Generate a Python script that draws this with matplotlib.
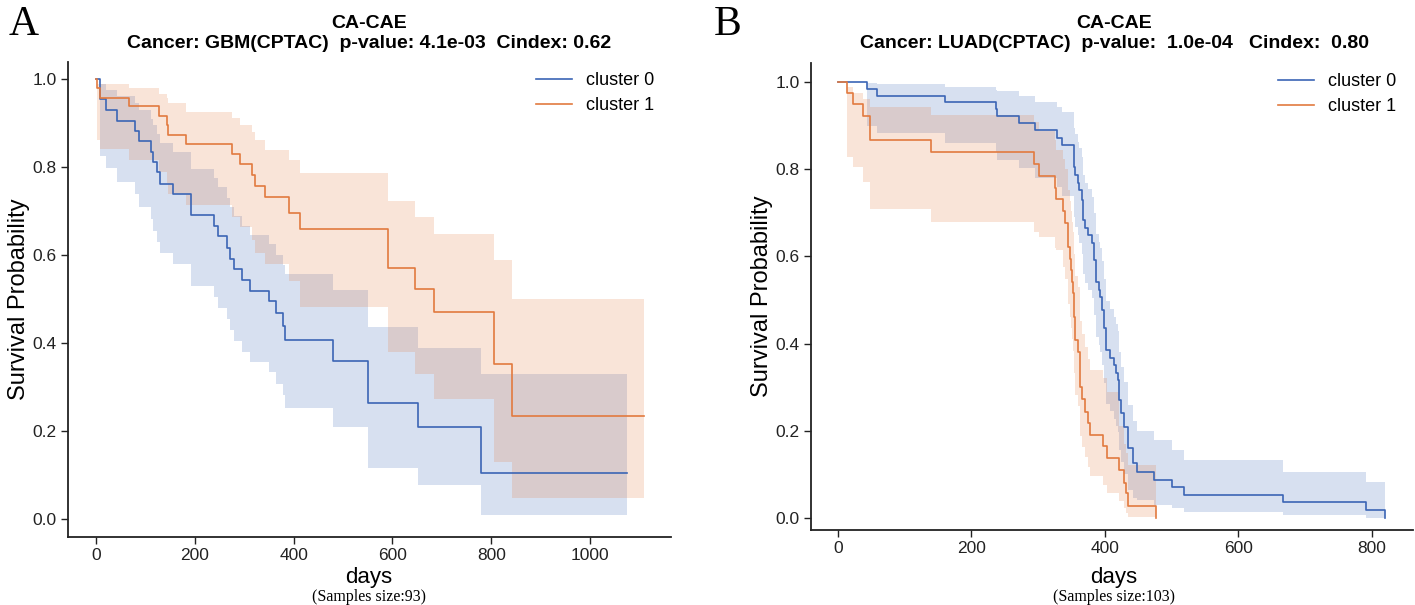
import matplotlib
matplotlib.use("Agg")
import matplotlib.pyplot as plt

# ---- panel A : GBM(CPTAC) ----
a0_days = [0, 7, 19, 43, 79, 87, 111, 116, 123, 130, 155, 191, 238, 246, 265, 271, 280, 295, 312,
           350, 364, 378, 383, 479, 551, 652, 780, 1075]
a0_surv = [1.0, 0.954, 0.930, 0.905, 0.883, 0.859, 0.835, 0.812, 0.788, 0.762, 0.739, 0.691, 0.667,
           0.643, 0.617, 0.592, 0.568, 0.543, 0.519, 0.495, 0.468, 0.439, 0.407, 0.360, 0.264, 0.210,
           0.104, 0.104]
a0_upper = [1.0, 0.988, 0.976, 0.962, 0.946, 0.930, 0.910, 0.895, 0.875, 0.855, 0.835, 0.795, 0.775,
            0.755, 0.730, 0.710, 0.690, 0.665, 0.645, 0.625, 0.600, 0.578, 0.556, 0.520, 0.437, 0.388,
            0.330, 0.330]
a0_lower = [1.0, 0.825, 0.797, 0.767, 0.740, 0.710, 0.681, 0.655, 0.630, 0.605, 0.580, 0.530, 0.505,
            0.480, 0.455, 0.430, 0.405, 0.380, 0.357, 0.335, 0.308, 0.282, 0.252, 0.210, 0.116, 0.077,
            0.009, 0.009]

a1_days = [0, 1, 7, 67, 127, 143, 146, 181, 275, 291, 315, 322, 341, 391, 412, 590, 645, 685, 805,
           843, 1110]
a1_surv = [1.0, 0.979, 0.958, 0.938, 0.916, 0.895, 0.874, 0.852, 0.830, 0.808, 0.783, 0.758, 0.733,
           0.696, 0.659, 0.571, 0.523, 0.471, 0.353, 0.234, 0.234]
a1_upper = [1.0, 0.990, 0.990, 0.981, 0.967, 0.958, 0.945, 0.926, 0.911, 0.895, 0.880, 0.861, 0.840,
            0.816, 0.786, 0.724, 0.687, 0.647, 0.588, 0.500, 0.500]
a1_lower = [1.0, 0.861, 0.842, 0.817, 0.790, 0.765, 0.740, 0.715, 0.687, 0.664, 0.635, 0.605, 0.580,
            0.540, 0.483, 0.380, 0.330, 0.273, 0.130, 0.048, 0.048]

# ---- panel B : LUAD(CPTAC) ----
b0_days = [0, 44, 59, 161, 237, 239, 271, 296, 328, 335, 353, 355, 359, 361, 365, 367, 370, 375, 380,
           383, 387, 391, 393, 396, 399, 402, 408, 413, 417, 419, 421, 424, 428, 435, 442, 448, 473,
           500, 519, 667, 791, 819]
b0_surv = [1.0, 0.985, 0.969, 0.953, 0.938, 0.922, 0.906, 0.889, 0.872, 0.856, 0.806, 0.787, 0.768,
           0.752, 0.729, 0.683, 0.664, 0.649, 0.630, 0.592, 0.542, 0.523, 0.508, 0.477, 0.435, 0.385,
           0.367, 0.350, 0.333, 0.317, 0.271, 0.240, 0.209, 0.160, 0.125, 0.106, 0.087, 0.070, 0.053,
           0.036, 0.018, 0.0]
b0_upper = [1.0, 0.998, 0.995, 0.989, 0.982, 0.979, 0.968, 0.955, 0.943, 0.932, 0.895, 0.880, 0.863,
            0.848, 0.828, 0.786, 0.768, 0.754, 0.736, 0.700, 0.652, 0.634, 0.619, 0.589, 0.548, 0.498,
            0.480, 0.462, 0.445, 0.428, 0.380, 0.347, 0.313, 0.260, 0.222, 0.200, 0.179, 0.156, 0.133,
            0.106, 0.083, 0.0]
b0_lower = [1.0, 0.900, 0.882, 0.861, 0.840, 0.821, 0.802, 0.779, 0.760, 0.739, 0.690, 0.668, 0.648,
            0.630, 0.606, 0.560, 0.540, 0.524, 0.505, 0.466, 0.415, 0.396, 0.381, 0.350, 0.310, 0.262,
            0.245, 0.228, 0.212, 0.197, 0.155, 0.128, 0.101, 0.065, 0.045, 0.041, 0.030, 0.022, 0.014,
            0.007, 0.001, 0.0]

b1_days = [0, 14, 22, 37, 48, 140, 294, 302, 325, 326, 337, 340, 345, 347, 349, 351, 352, 353, 355,
           359, 363, 366, 370, 374, 377, 397, 403, 421, 428, 432, 435, 476]
b1_surv = [1.0, 0.975, 0.949, 0.921, 0.867, 0.840, 0.812, 0.785, 0.758, 0.731, 0.704, 0.677, 0.622,
           0.595, 0.569, 0.542, 0.515, 0.462, 0.408, 0.381, 0.301, 0.272, 0.244, 0.217, 0.190, 0.164,
           0.137, 0.110, 0.081, 0.057, 0.028, 0.0]
b1_upper = [1.0, 0.989, 0.974, 0.960, 0.943, 0.924, 0.909, 0.888, 0.866, 0.845, 0.823, 0.800, 0.752,
            0.728, 0.705, 0.680, 0.655, 0.605, 0.555, 0.530, 0.452, 0.422, 0.393, 0.365, 0.340, 0.320,
            0.290, 0.210, 0.170, 0.150, 0.122, 0.0]
b1_lower = [1.0, 0.829, 0.806, 0.771, 0.709, 0.679, 0.655, 0.645, 0.620, 0.615, 0.575, 0.548, 0.490,
            0.462, 0.436, 0.410, 0.384, 0.332, 0.282, 0.258, 0.188, 0.163, 0.140, 0.118, 0.096, 0.076,
            0.057, 0.040, 0.024, 0.012, 0.003, 0.0]

BLUE = "#3B65B5"
ORANGE = "#E27A3F"
SANS = ["Liberation Sans", "DejaVu Sans"]
SERIF = ["Liberation Serif", "DejaVu Serif"]

plt.rcParams["font.family"] = SANS

W, H = 1415, 605
fig = plt.figure(figsize=(W / 100, H / 100), dpi=100)
axA = fig.add_axes([0.0481, 0.1124, 0.4261, 0.7851])
axB = fig.add_axes([0.5731, 0.1240, 0.4254, 0.7719])


def km(ax, days, surv, lo, hi, color, label):
    ax.fill_between(days, lo, hi, step="post", color=color, alpha=0.2, linewidth=0)
    ax.step(days, surv, where="post", color=color, lw=1.2, label=label)


def style(ax, title, xmax_tick, xlim, ylim, samples, xc):
    ax.set_xlim(*xlim)
    ax.set_ylim(*ylim)
    ax.set_xticks(range(0, xmax_tick + 1, 200))
    ax.set_yticks([0.0, 0.2, 0.4, 0.6, 0.8, 1.0])
    ax.set_yticklabels(["0.0", "0.2", "0.4", "0.6", "0.8", "1.0"])
    for s in ["top", "right"]:
        ax.spines[s].set_visible(False)
    for s in ["left", "bottom"]:
        ax.spines[s].set_color("#222222")
        ax.spines[s].set_linewidth(1.3)
    ax.tick_params(direction="out", length=5, width=1, labelsize=12.5, colors="#222222", pad=3)
    # two-line bold title, placed in figure pixels
    line1, line2 = title.split("\n")
    fig.text(xc / W, 1 - 23 / H, line1, fontsize=14, fontweight="bold", ha="center", va="center")
    fig.text(xc / W, 1 - 44 / H, line2, fontsize=14, fontweight="bold", ha="center", va="center")
    ax.set_ylabel("Survival Probability", fontsize=17, labelpad=2)
    fig.text(xc / W, 1 - 577 / H, "days", fontsize=16, ha="center", va="center")
    fig.text(xc / W, 1 - 597 / H, samples, fontsize=11.5, family=SERIF, ha="center", va="center")
    ax.legend(loc="upper right", bbox_to_anchor=(1.0, 1.013), frameon=False, fontsize=13,
              handlelength=2.0, handletextpad=0.8, labelspacing=0.45)


km(axA, a0_days, a0_surv, a0_lower, a0_upper, BLUE, "cluster 0")
km(axA, a1_days, a1_surv, a1_lower, a1_upper, ORANGE, "cluster 1")
style(axA, "CA-CAE\nCancer: GBM(CPTAC)  p-value: 4.1e-03  Cindex: 0.62", 1000,
      (-57, 1164), (-0.041, 1.039), "(Samples size:93)", 369)

km(axB, b0_days, b0_surv, b0_lower, b0_upper, BLUE, "cluster 0")
km(axB, b1_days, b1_surv, b1_lower, b1_upper, ORANGE, "cluster 1")
style(axB, "CA-CAE\nCancer: LUAD(CPTAC)  p-value:  1.0e-04   Cindex:  0.80", 800,
      (-40.4, 861.4), (-0.0275, 1.0436), "(Samples size:103)", 1114)

fig.text(24 / W, 1 - 25 / H, "A", fontsize=30, family=SERIF, ha="center", va="center")
fig.text(728 / W, 1 - 25 / H, "B", fontsize=30, family=SERIF, ha="center", va="center")

fig.savefig("out.png", dpi=100)
